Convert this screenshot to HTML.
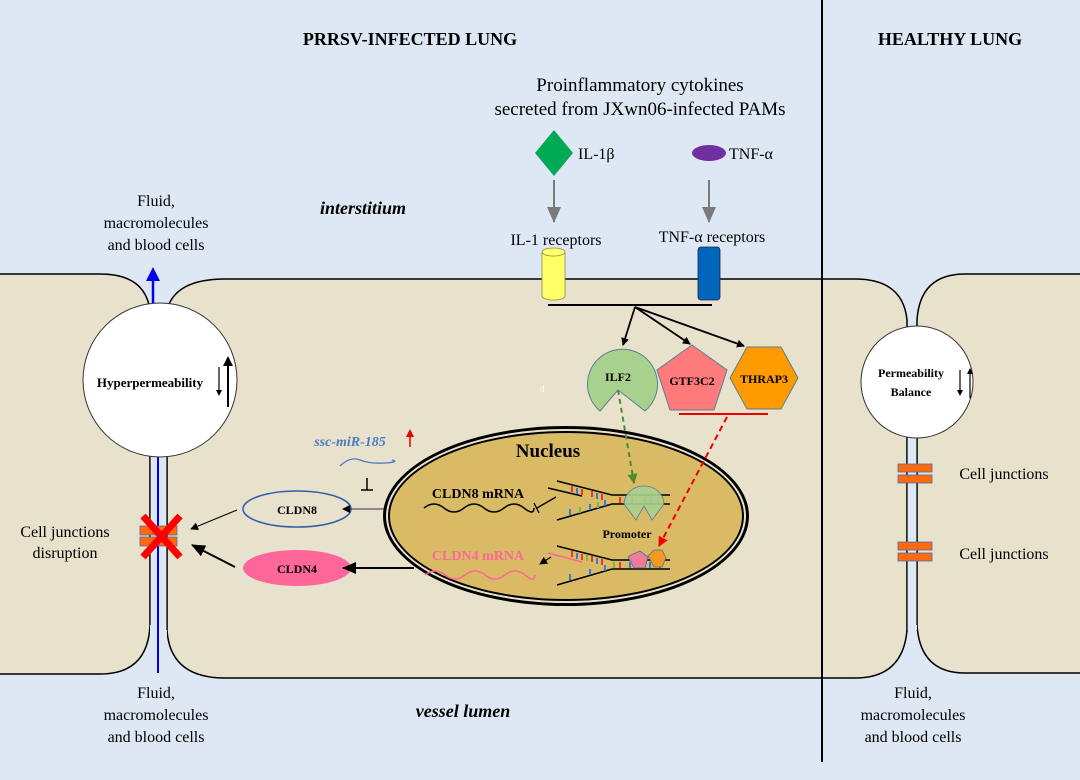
<!DOCTYPE html>
<html><head><meta charset="utf-8"><style>
html,body{margin:0;padding:0;background:#dde8f4}
svg{display:block}
text{font-family:"Liberation Serif",serif}
</style></head><body>
<svg width="1080" height="780" viewBox="0 0 1080 780" xmlns="http://www.w3.org/2000/svg">
<defs>
<marker id="ab" markerWidth="8" markerHeight="8" refX="7" refY="4" orient="auto" markerUnits="userSpaceOnUse"><path d="M0,0 L8,4 L0,8 Z" fill="#000"/></marker>
<marker id="abl" markerWidth="14" markerHeight="12" refX="13" refY="6" orient="auto" markerUnits="userSpaceOnUse"><path d="M0,0 L14,6 L0,12 Z" fill="#000"/></marker>
<marker id="ag" markerWidth="16" markerHeight="14" refX="15" refY="7" orient="auto" markerUnits="userSpaceOnUse"><path d="M0,0 L16,7 L0,14 Z" fill="#7a7a7a"/></marker>
<marker id="agr" markerWidth="10" markerHeight="10" refX="9" refY="5" orient="auto" markerUnits="userSpaceOnUse"><path d="M0,0 L10,5 L0,10 Z" fill="#4e8a2e"/></marker>
<marker id="ar" markerWidth="10" markerHeight="10" refX="9" refY="5" orient="auto" markerUnits="userSpaceOnUse"><path d="M0,0 L10,5 L0,10 Z" fill="#e00"/></marker>
</defs>
<rect width="1080" height="780" fill="#dde8f4"/>
<!-- cells -->
<path d="M-2,274 H100 Q145,274 150,310 V625 Q148,674 100,674 H-2 Z" fill="#e8e1cc" stroke="#000" stroke-width="1.5"/>
<path d="M167,310 Q175,279 225,279 H855 Q903,279 907,320 V630 Q903,678 855,678 H225 Q170,678 167,630 Z" fill="#e8e1cc" stroke="#000" stroke-width="1.5"/>
<path d="M917,320 Q920,274 965,274 H1082 V673 H965 Q920,673 917,625 Z" fill="#e8e1cc" stroke="#000" stroke-width="1.5"/>
<!-- left channel -->
<rect x="150" y="440" width="17" height="200" fill="#dde8f4"/>
<line x1="150" y1="440" x2="150" y2="625" stroke="#000" stroke-width="1.2"/>
<line x1="167" y1="440" x2="167" y2="630" stroke="#000" stroke-width="1.2"/>
<line x1="158" y1="440" x2="158" y2="673" stroke="#0000ee" stroke-width="2"/>
<line x1="153" y1="305" x2="153" y2="275" stroke="#0000ee" stroke-width="2.5"/>
<path d="M146,281 L153,267 L160,281 Z" fill="#0000ee"/>
<circle cx="160" cy="380" r="77" fill="#fff" stroke="#333" stroke-width="1"/>
<text x="150" y="387" font-size="13" font-weight="bold" text-anchor="middle">Hyperpermeability</text>
<line x1="219" y1="367" x2="219" y2="393" stroke="#000" stroke-width="1.2"/><path d="M216,390 L219,396 L222,390 Z"/>
<line x1="228" y1="407" x2="228" y2="362" stroke="#000" stroke-width="2"/><path d="M223,366 L228,356 L233,366 Z"/>
<!-- junctions left -->
<rect x="140" y="526" width="37" height="9" fill="#ff6a10" stroke="#4a6fa5" stroke-width="0.8"/>
<rect x="140" y="537" width="37" height="9" fill="#ff6a10" stroke="#4a6fa5" stroke-width="0.8"/>
<path d="M143,516 L180,557 M180,516 L143,557" stroke="#f00" stroke-width="7"/>
<text x="65" y="537" font-size="16" text-anchor="middle">Cell junctions</text>
<text x="65" y="558" font-size="16" text-anchor="middle">disruption</text>
<!-- CLDN8/4 -->
<ellipse cx="297" cy="509" rx="54" ry="18" fill="none" stroke="#2f5fa7" stroke-width="1.5"/>
<text x="297" y="514" font-size="12" font-weight="bold" text-anchor="middle">CLDN8</text>
<ellipse cx="297" cy="568" rx="54" ry="18" fill="#ff6699"/>
<text x="297" y="573" font-size="12" font-weight="bold" text-anchor="middle">CLDN4</text>
<line x1="237" y1="510" x2="191" y2="529" stroke="#000" stroke-width="1" marker-end="url(#ab)"/>
<line x1="235" y1="567" x2="192" y2="545" stroke="#000" stroke-width="2" marker-end="url(#abl)"/>
<line x1="414" y1="509" x2="343" y2="509" stroke="#333" stroke-width="1" marker-end="url(#ab)"/>
<line x1="414" y1="568" x2="343" y2="568" stroke="#000" stroke-width="2" marker-end="url(#abl)"/>
<!-- miRNA -->
<text x="350" y="446" font-size="14" font-style="italic" font-weight="bold" fill="#4a7cc4" text-anchor="middle">ssc-miR-185</text>
<line x1="410" y1="447" x2="410" y2="434" stroke="#e00" stroke-width="1.5"/><path d="M406,437 L410,429 L414,437 Z" fill="#e00"/>
<path d="M340,466 Q350,456 360,460 T385,463 T392,460" fill="none" stroke="#4a7cc4" stroke-width="1.3"/>
<path d="M367,478 V490 M361,490 H373" stroke="#000" stroke-width="1.5"/>
<!-- nucleus -->
<ellipse cx="566" cy="516" rx="183" ry="90" fill="#000"/>
<ellipse cx="566" cy="516" rx="180" ry="87" fill="#e8e1cc"/>
<ellipse cx="566" cy="516" rx="178" ry="85" fill="#000"/>
<ellipse cx="566" cy="516" rx="176" ry="83" fill="#d9bb66"/>
<text x="548" y="457" font-size="19" font-weight="bold" text-anchor="middle">Nucleus</text>
<text x="478" y="498" font-size="14" font-weight="bold" text-anchor="middle">CLDN8 mRNA</text>
<path d="M424,508 q10,-8 20,0 t20,0 t20,0 t20,0 t20,0 t10,0" fill="none" stroke="#000" stroke-width="1.5"/>
<line x1="556" y1="497" x2="537" y2="508" stroke="#000" stroke-width="1.3"/><line x1="534" y1="503" x2="539" y2="513" stroke="#000" stroke-width="1.3"/>
<text x="478" y="560" font-size="14" font-weight="bold" fill="#ff6699" text-anchor="middle">CLDN4 mRNA</text>
<path d="M425,575 q10,-8 20,0 t20,0 t20,0 t20,0 t20,0 t10,0" fill="none" stroke="#ff6699" stroke-width="1.5"/>
<line x1="551" y1="557" x2="540" y2="564" stroke="#000" stroke-width="1.3" marker-end="url(#ab)"/>
<!-- DNA -->
<g stroke="#000" stroke-width="1.6" fill="none">
<path d="M557,481 L612,495 H670 M548,488 L582,496 M557,520 L612,504 H670"/>
<path d="M557,546 L612,560 H670 M557,585 L612,569 H670"/>
</g>
<path d="M548,553 L582,562" stroke="#ff6699" stroke-width="1.6"/>
<g stroke-width="2">
<path d="M572,486v6M582,489v6M592,491v6M602,494v6M620,497v6M632,497v6M645,497v6M658,497v6" stroke="#e33"/>
<path d="M577,488v6M597,493v6M626,497v6M651,497v6" stroke="#3a7ad8"/>
<path d="M587,490v6M614,497v6M638,497v6M664,497v6" stroke="#f0c020"/>
<path d="M570,515v-6M590,510v-6M605,506v-6" stroke="#3a7ad8"/>
<path d="M580,513v-6M598,508v-6" stroke="#6bbf4a"/>
<path d="M572,551v6M582,554v6M592,556v6M602,559v6M620,562v6M640,562v6M660,562v6" stroke="#e33"/>
<path d="M577,553v6M597,558v6M630,562v6M650,562v6" stroke="#3a7ad8"/>
<path d="M587,555v6M614,562v6M645,562v6" stroke="#6bbf4a"/>
<path d="M570,580v-6M590,575v-6M605,571v-6" stroke="#3a7ad8"/>
</g>
<path d="M624,504 A20,18 0 1 1 664,504 L652,520 L644,506 L636,520 Z" fill="#a9d18e" stroke="#4a6fa5" stroke-width="0.8" opacity="0.9"/>
<text x="627" y="538" font-size="12" font-weight="bold" text-anchor="middle">Promoter</text>
<path d="M631,555 L640,551 L648,557 L645,568 L634,568 L628,557 Z" fill="#f07a99" stroke="#4a6fa5" stroke-width="0.8"/>
<path d="M648,556 L654,550 L662,550 L666,558 L662,567 L654,567 Z" fill="#f29a1f" stroke="#4a6fa5" stroke-width="0.8"/>
<!-- dashed arrows -->
<line x1="618" y1="390" x2="634" y2="483" stroke="#4e8a2e" stroke-width="2" stroke-dasharray="5,4" marker-end="url(#agr)"/>
<line x1="727" y1="417" x2="659" y2="546" stroke="#e00" stroke-width="2" stroke-dasharray="6,4" marker-end="url(#ar)"/>
<!-- ILF2 etc -->
<path d="M618,390 L600,411 A35,35 0 1 1 645,411 Z" fill="#a9d18e" stroke="#5a7f8f" stroke-width="1"/>
<text x="618" y="381" font-size="12" font-weight="bold" text-anchor="middle">ILF2</text>
<text x="540" y="392" font-size="9" fill="#fff">d</text>
<path d="M692,345 L727,370 L714,410 L670,410 L657,370 Z" fill="#ff7a7a" stroke="#5a7f8f" stroke-width="1"/>
<text x="692" y="385" font-size="12" font-weight="bold" text-anchor="middle">GTF3C2</text>
<path d="M747,347 L781,347 L798,378 L781,409 L747,409 L730,378 Z" fill="#ff9a00" stroke="#5a7f8f" stroke-width="1"/>
<text x="764" y="383" font-size="12" font-weight="bold" text-anchor="middle">THRAP3</text>
<line x1="679" y1="414" x2="768" y2="414" stroke="#e00" stroke-width="2"/>
<!-- signaling -->
<line x1="548" y1="305" x2="712" y2="305" stroke="#000" stroke-width="2"/>
<g stroke="#000" stroke-width="1.8">
<line x1="635" y1="307" x2="623" y2="345" marker-end="url(#ab)"/>
<line x1="635" y1="307" x2="690" y2="344" marker-end="url(#ab)"/>
<line x1="635" y1="307" x2="744" y2="346" marker-end="url(#ab)"/>
</g>
<path d="M542,252 V296 A11.5,4 0 0 0 565,296 V252" fill="#ffff66" stroke="#8a8a50" stroke-width="0.8"/>
<ellipse cx="553.5" cy="252" rx="11.5" ry="4" fill="#ffff66" stroke="#8a8a50" stroke-width="0.8"/>
<rect x="698" y="247" width="22" height="53" rx="3" fill="#0066bb" stroke="#224" stroke-width="0.8"/>
<line x1="554" y1="180" x2="554" y2="222" stroke="#7a7a7a" stroke-width="2" marker-end="url(#ag)"/>
<line x1="709" y1="180" x2="709" y2="222" stroke="#7a7a7a" stroke-width="2" marker-end="url(#ag)"/>
<path d="M554,130 L573,153 L554,176 L535,153 Z" fill="#00aa55"/>
<ellipse cx="709" cy="153" rx="17" ry="8" fill="#7030a0"/>
<text x="578" y="159" font-size="16">IL-1β</text>
<text x="729" y="159" font-size="16">TNF-α</text>
<text x="556" y="245" font-size="16" text-anchor="middle">IL-1 receptors</text>
<text x="712" y="242" font-size="16" text-anchor="middle">TNF-α receptors</text>
<text x="640" y="91" font-size="19" text-anchor="middle">Proinflammatory cytokines</text>
<text x="640" y="115" font-size="19" text-anchor="middle">secreted from JXwn06-infected PAMs</text>
<text x="410" y="45" font-size="18" font-weight="bold" text-anchor="middle">PRRSV-INFECTED LUNG</text>
<text x="950" y="45" font-size="18" font-weight="bold" text-anchor="middle">HEALTHY LUNG</text>
<text x="363" y="214" font-size="18" font-weight="bold" font-style="italic" text-anchor="middle">interstitium</text>
<text x="463" y="717" font-size="18" font-weight="bold" font-style="italic" text-anchor="middle">vessel lumen</text>
<g font-size="16" text-anchor="middle">
<text x="156" y="206">Fluid,</text><text x="156" y="228">macromolecules</text><text x="156" y="250">and blood cells</text>
<text x="156" y="698">Fluid,</text><text x="156" y="720">macromolecules</text><text x="156" y="742">and blood cells</text>
<text x="913" y="698">Fluid,</text><text x="913" y="720">macromolecules</text><text x="913" y="742">and blood cells</text>
</g>
<!-- right channel -->
<rect x="907" y="420" width="10" height="210" fill="#dde8f4"/>
<line x1="907" y1="420" x2="907" y2="632" stroke="#000" stroke-width="1.2"/>
<line x1="917" y1="420" x2="917" y2="625" stroke="#000" stroke-width="1.2"/>
<circle cx="917" cy="382" r="56" fill="#fff" stroke="#333" stroke-width="1"/>
<text x="911" y="377" font-size="12" font-weight="bold" text-anchor="middle">Permeability</text>
<text x="911" y="396" font-size="12" font-weight="bold" text-anchor="middle">Balance</text>
<line x1="960" y1="370" x2="960" y2="392" stroke="#000" stroke-width="1.2"/><path d="M957,390 L960,396 L963,390 Z"/>
<line x1="970" y1="398" x2="970" y2="372" stroke="#000" stroke-width="1.2"/><path d="M967,374 L970,368 L973,374 Z"/>
<rect x="898" y="464" width="34" height="8" fill="#ff6a10" stroke="#4a6fa5" stroke-width="0.8"/>
<rect x="898" y="475" width="34" height="8" fill="#ff6a10" stroke="#4a6fa5" stroke-width="0.8"/>
<rect x="898" y="542" width="34" height="8" fill="#ff6a10" stroke="#4a6fa5" stroke-width="0.8"/>
<rect x="898" y="553" width="34" height="8" fill="#ff6a10" stroke="#4a6fa5" stroke-width="0.8"/>
<text x="1004" y="479" font-size="16" text-anchor="middle">Cell junctions</text>
<text x="1004" y="559" font-size="16" text-anchor="middle">Cell junctions</text>
<line x1="822" y1="0" x2="822" y2="762" stroke="#000" stroke-width="2"/>
</svg>
</body></html>
